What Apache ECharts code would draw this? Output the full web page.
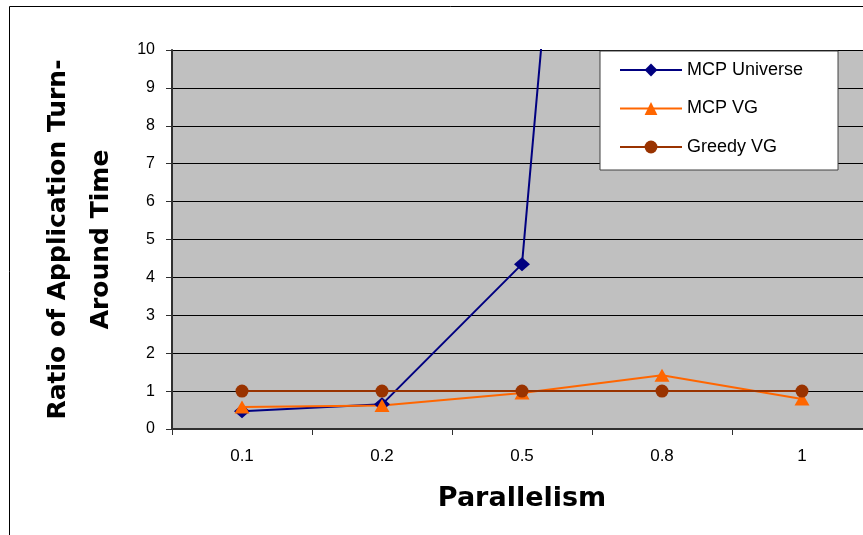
<!DOCTYPE html>
<html>
<head>
<meta charset="utf-8">
<script src="https://cdn.jsdelivr.net/npm/echarts@6/dist/echarts.min.js"></script>
<style>
  html, body { margin: 0; padding: 0; background: #fff; overflow: hidden; }
  #chart { width: 890px; height: 535px; }
</style>
</head>
<body>
<div id="chart"></div>
<script>
// Parallelism levels on the category axis
const categories = ['0.1', '0.2', '0.5', '0.8', '1'];
// Ratio of application turn-around time for each scheduler
const mcpUniverse = [0.47, 0.65, 4.35, 46, 90];
const mcpVG = [0.58, 0.62, 0.95, 1.42, 0.79];
const greedyVG = [1, 1, 1, 1, 1];
const yTicks = { min: 0, max: 10, step: 1 };

const chart = echarts.init(document.getElementById('chart'), null, { renderer: 'canvas' });

const sansFont = '"Liberation Sans", Arial, sans-serif';
const titleFont = '"DejaVu Sans", sans-serif';

function lineSeries(name, data, color, symbol, size) {
  return {
    name: name,
    type: 'line',
    data: data,
    symbol: symbol,
    symbolSize: size,
    clip: true,
    lineStyle: { color: color, width: 2 },
    itemStyle: { color: color },
    emphasis: { disabled: true },
    animation: false,
    z: 3
  };
}

chart.setOption({
  backgroundColor: '#ffffff',
  animation: false,
  graphic: [{
    type: 'rect',
    shape: { x: 9.5, y: 6.5, width: 900, height: 600 },
    style: { fill: 'none', stroke: '#000000', lineWidth: 1 },
    silent: true,
    z: 0
  }],
  grid: {
    left: 172, top: 50, width: 700, height: 379,
    show: true, backgroundColor: '#c0c0c0', borderWidth: 0
  },
  legend: {
    left: 600, top: 51,
    orient: 'vertical',
    backgroundColor: '#ffffff',
    borderColor: '#404040',
    borderWidth: 1,
    padding: [9, 35, 13, 19],
    itemWidth: 62,
    itemHeight: 16,
    itemGap: 18.5,
    textStyle: { fontFamily: sansFont, fontSize: 18, color: '#000', lineHeight: 20 },
    data: ['MCP Universe', 'MCP VG', 'Greedy VG']
  },
  xAxis: {
    type: 'category',
    data: categories,
    boundaryGap: true,
    name: 'Parallelism',
    nameLocation: 'middle',
    nameGap: 56,
    nameTextStyle: { fontFamily: titleFont, fontWeight: 'bold', fontSize: 27, color: '#000' },
    axisLine: { show: true, lineStyle: { color: '#303030', width: 2 } },
    axisTick: { show: true, alignWithLabel: false, length: 6, lineStyle: { color: '#303030', width: 1 } },
    axisLabel: { fontFamily: sansFont, fontSize: 17, color: '#000', margin: 19 },
    splitLine: { show: false }
  },
  yAxis: {
    type: 'value',
    min: yTicks.min, max: yTicks.max, interval: yTicks.step,
    name: 'Ratio of Application Turn-\nAround Time',
    nameLocation: 'middle',
    nameRotate: 90,
    nameGap: 49,
    nameTextStyle: { fontFamily: titleFont, fontWeight: 'bold', fontSize: 25, color: '#000', lineHeight: 43, align: 'center' },
    axisLine: { show: true, lineStyle: { color: '#303030', width: 2 } },
    axisTick: { show: true, length: 6, lineStyle: { color: '#303030', width: 1 } },
    axisLabel: { fontFamily: sansFont, fontSize: 16, color: '#000', margin: 17 },
    splitLine: { show: true, lineStyle: { color: '#000000', width: 1 } }
  },
  series: [
    lineSeries('MCP Universe', mcpUniverse, '#000080', 'diamond', [16, 14]),
    lineSeries('MCP VG', mcpVG, '#ff6600', 'triangle', [15, 13]),
    lineSeries('Greedy VG', greedyVG, '#993300', 'circle', 13)
  ]
});
</script>
</body>
</html>
